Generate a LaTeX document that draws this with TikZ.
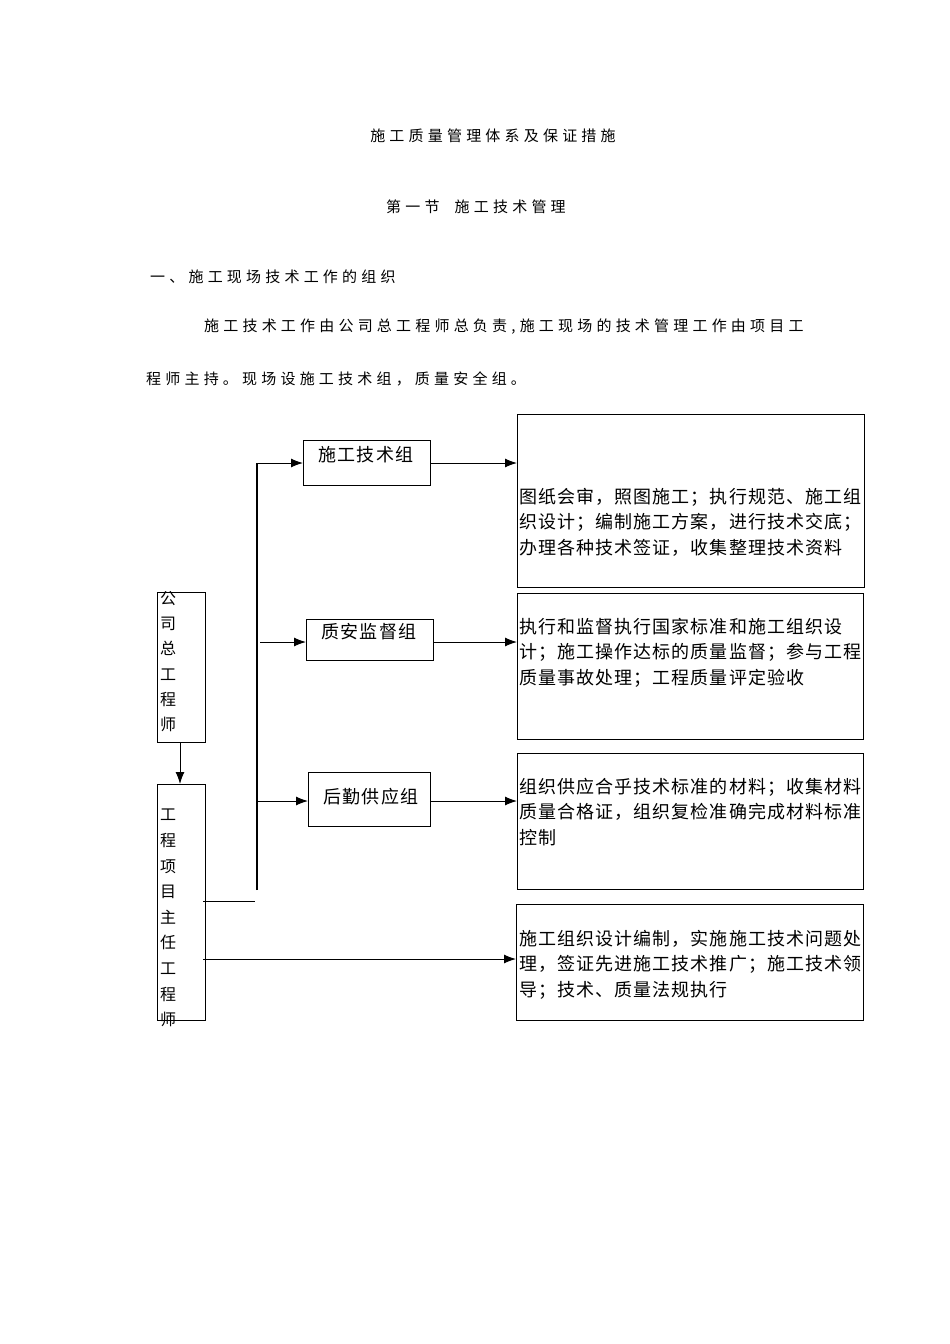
\documentclass[tikz,border=0pt]{standalone}
\usepackage{fontspec}
\setmainfont{Noto Sans CJK SC}
\usetikzlibrary{arrows.meta}
\begin{document}
\begin{tikzpicture}[x=1pt,y=-1pt,
 bx/.style={draw,line width=0.8pt},
 ar/.style={-{Latex[length=12pt,width=9pt]},line width=1pt},
 tx/.style={font=\fontsize{15}{25}\selectfont\addfontfeature{LetterSpace=28},inner sep=0pt},
 bt/.style={font=\fontsize{18}{25.5}\selectfont\addfontfeature{LetterSpace=6},inner sep=0pt,anchor=north west,align=left}]
\useasboundingbox (0,0) rectangle (950,1344);
\node[tx] (t1) at (493,136) {施工质量管理体系及保证措施};
\node[tx] (t2) at (476,207) {第一节\ \ 施工技术管理};
\node[tx,anchor=west] (t3) at (150,277) {一、施工现场技术工作的组织};
\node[tx,anchor=west] (p1) at (204,327) {施工技术工作由公司总工程师总负责,施工现场的技术管理工作由项目工};
\node[tx,anchor=west] (p2) at (146,379) {程师主持。现场设施工技术组，质量安全组。};
% left boxes
\draw[bx] (157,592) rectangle (205,742);
\node[bt,align=center,anchor=north,font=\fontsize{16}{25.3}\selectfont] (c1) at (168,591) {公\\司\\总\\工\\程\\师};
\draw[bx] (157,784) rectangle (205,1020);
\node[bt,align=center,anchor=north,font=\fontsize{16}{25.6}\selectfont] (c2) at (168,809) {工\\程\\项\\目\\主\\任\\工\\程\\师};
\coordinate (a1) at (180,742); \coordinate (a2) at (180,784);
\draw[ar] (a1) -- (a2);
% middle boxes
\node[bx,minimum width=127pt,minimum height=45pt,anchor=north west,inner sep=0pt] (m1) at (303,440) {};
\node[bt,anchor=center] at (366,455) {施工技术组};
\node[bx,minimum width=127pt,minimum height=41pt,anchor=north west,inner sep=0pt] (m2) at (306,619) {};
\node[bt,anchor=center] at (369,632) {质安监督组};
\node[bx,minimum width=122pt,minimum height=54pt,anchor=north west,inner sep=0pt] (m3) at (308,772) {};
\node[bt,anchor=center] at (371,797) {后勤供应组};
% right boxes
\draw[bx] (517,414) rectangle (864,587);
\node[bt] (r1) at (519,488) {图纸会审，照图施工；执行规范、施工组\\织设计；编制施工方案，进行技术交底；\\办理各种技术签证，收集整理技术资料};
\draw[bx] (517,593) rectangle (863,739);
\node[bt] (r2) at (519,618) {执行和监督执行国家标准和施工组织设\\计；施工操作达标的质量监督；参与工程\\质量事故处理；工程质量评定验收};
\draw[bx] (517,753) rectangle (863,889);
\node[bt] (r3) at (519,778) {组织供应合乎技术标准的材料；收集材料\\质量合格证，组织复检准确完成材料标准\\控制};
\draw[bx] (516,904) rectangle (863,1020);
\node[bt] (r4) at (519,930) {施工组织设计编制，实施施工技术问题处\\理，签证先进施工技术推广；施工技术领\\导；技术、质量法规执行};
% connectors
\coordinate (v1) at (257,463); \coordinate (v2) at (257,890);
\draw[line width=1.6pt] (v2) -- (v1);
\draw[ar] (256.2,463) -- (m1.west|-0,463);
\draw[ar] (260,642) -- (m2.west|-0,642);
\draw[ar] (258,801) -- (m3.west|-0,801);
\draw[ar] (m1.east|-0,463) -- (517,463);
\draw[ar] (m2.east|-0,642) -- (517,642);
\draw[ar] (m3.east|-0,801) -- (517,801);
\coordinate (h1) at (203,901); \coordinate (h2) at (255,901);
\draw[line width=0.8pt] (h1) -- (h2);
\coordinate (h3) at (203,959); \coordinate (h4) at (516,959);
\draw[ar] (h3) -- (h4);
\end{tikzpicture}
\end{document}
